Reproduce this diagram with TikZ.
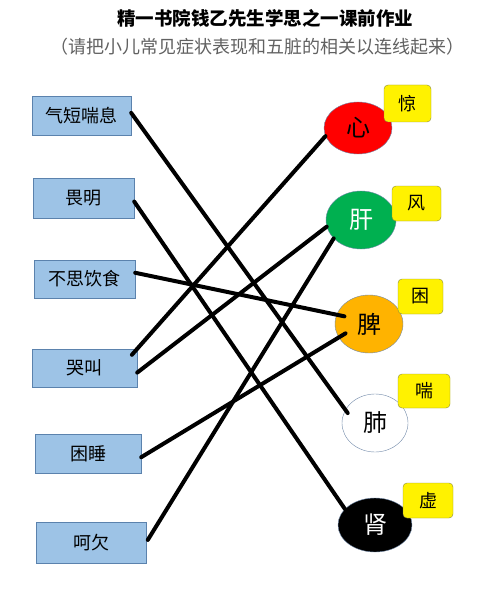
\documentclass[tikz,border=0pt]{standalone}
\usepackage{fontspec}
\setmainfont{Noto Sans CJK SC}
\usepackage{tikz}
\usetikzlibrary{shapes.geometric}
\usepackage{xcolor}
\definecolor{symfill}{HTML}{9DC3E6}
\definecolor{symedge}{HTML}{5B82AD}
\definecolor{ringedge}{HTML}{7088A8}
\definecolor{tagedge}{HTML}{8C8C3A}
\definecolor{heart}{HTML}{FF0000}
\definecolor{liver}{HTML}{00B050}
\definecolor{spleen}{HTML}{FFB300}

\begin{document}
\begin{tikzpicture}[x=1pt, y=-1pt,
  sym/.style={draw=symedge, fill=symfill, minimum height=39pt,
              minimum width=101pt, inner sep=0pt, font=\fontsize{18}{20}\selectfont},
  organ/.style={ellipse, draw=ringedge, inner sep=0pt, font=\fontsize{24}{26}\selectfont},
  tag/.style={draw=tagedge, fill=yellow, rounded corners=4pt, minimum width=47pt,
              minimum height=36pt, inner sep=0pt, font=\fontsize{18}{20}\selectfont},
  ln/.style={line width=4pt, line cap=round},
]
  \useasboundingbox (0,0) rectangle (476,596);

  % titles
  \node[font=\fontsize{18.5}{21}\selectfont\bfseries] (title) at (265,18) {精一书院钱乙先生学思之一课前作业};
  \node[font=\fontsize{18}{21}\selectfont, text=black!62] (subtitle) at (257,47) {（请把小儿常见症状表现和五脏的相关以连线起来）};

  % symptoms
  \node[sym, minimum width=99pt] (qiduan) at (81.5,115.5) {气短喘息};
  \node[sym, minimum height=40pt] (weiming) at (83.5,198) {畏明};
  \node[sym, minimum height=38pt] (busi) at (84.5,279) {不思饮食};
  \node[sym, minimum width=105pt, minimum height=38pt] (kujiao) at (84.5,368) {哭叫};
  \node[sym, minimum width=106pt] (kunshui) at (88,453.5) {困睡};
  \node[sym, minimum width=110pt, minimum height=41pt] (heqian) at (91,542.5) {呵欠};

  % organs
  \node[organ, fill=heart, minimum width=68pt, minimum height=52pt] (xin) at (358,128) {心};
  \node[organ, fill=liver, text=white, minimum width=70pt, minimum height=58pt] (gan) at (361,220) {肝};
  \node[organ, fill=spleen, minimum width=68pt, minimum height=58pt] (pi) at (369,324) {脾};
  \node[organ, fill=white, minimum width=66pt, minimum height=58pt] (fei) at (375,423) {肺};
  \node[organ, fill=black, text=white, minimum width=74pt, minimum height=54pt] (shen) at (375,525) {肾};

  % tags
  \node[tag, minimum height=37pt] (jing) at (407.5,103.5) {惊};
  \node[tag, minimum width=49pt, minimum height=35pt] (feng) at (416.5,203.5) {风};
  \node[tag, minimum width=45pt, minimum height=35pt] (kun) at (420.5,296.5) {困};
  \node[tag, minimum width=52pt, minimum height=34pt] (chuan) at (424,391) {喘};
  \node[tag, minimum width=50pt, minimum height=35pt] (xu) at (428,500.5) {虚};

  \draw[ln, shorten >=-4pt] (qiduan.3) -- (fei.156);
  \draw[ln] (weiming.-4) -- (shen.152);
  \draw[ln, shorten >=-8pt] (busi.7) -- (pi.164);
  \draw[ln, shorten <=-8pt] (kujiao.north east) -- (xin.194);
  \draw[ln] (kujiao.-5) -- (gan.191);
  \draw[ln, shorten >=-8pt] (kunshui.-4) -- (pi.204);
  \draw[ln, shorten <=3pt] (heqian.east) -- (gan.214);
\end{tikzpicture}
\end{document}
